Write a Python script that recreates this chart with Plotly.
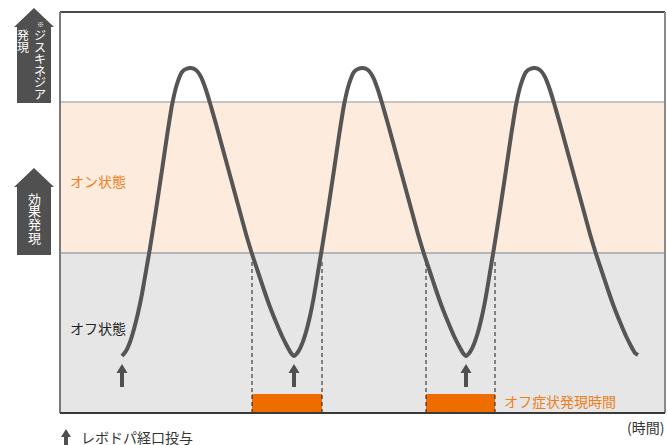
import plotly.graph_objects as go

# Plasma-level curve after repeated oral levodopa doses (arbitrary time / level units)
time = [
    62, 66, 70, 74, 78, 82, 86, 90, 96, 102, 107, 112, 117, 122, 126, 131, 136, 141, 146, 150,
    156, 162, 168, 174, 180, 186, 192, 198, 204, 210, 216, 222, 227, 231, 234,
    238, 242, 246, 250, 254, 258, 262, 268, 274, 279, 284, 289, 294, 298, 303, 308, 313, 318, 322,
    328, 334, 340, 346, 352, 358, 364, 370, 376, 382, 388, 394, 399, 403, 406,
    410, 414, 418, 422, 426, 430, 434, 440, 446, 451, 456, 461, 466, 470, 475, 480, 485, 490, 494,
    500, 506, 512, 518, 524, 530, 536, 542, 548, 554, 560, 566, 571, 575, 578,
]
level = [
    57, 62, 71, 84, 100, 119, 142, 165, 203, 243, 277, 308, 329, 341, 344, 345, 343, 336, 323, 310,
    289, 267, 245, 223, 201, 179, 159, 141, 123, 106, 91, 77, 67, 60, 57,
    61, 69, 81, 97, 117, 141, 165, 203, 243, 277, 308, 329, 341, 344, 345, 343, 336, 323, 310,
    289, 267, 245, 223, 201, 179, 159, 141, 123, 106, 91, 77, 67, 60, 57,
    61, 69, 81, 97, 117, 141, 165, 203, 243, 277, 308, 329, 341, 344, 345, 343, 336, 323, 310,
    289, 267, 245, 223, 201, 179, 159, 141, 123, 106, 91, 77, 67, 60, 58,
]

dose_times = [62, 234, 406]          # oral levodopa doses
off_start = [192, 366]               # wearing-off begins
off_end = [262, 435]                 # next dose takes effect
off_threshold = 160                  # below: OFF state
dyskinesia_threshold = 311           # above: dyskinesia

X_MAX, Y_MAX = 605, 401
W, H = 667, 445
L, T = 60, 12

ORANGE_TXT = "#ee7d1c"
ORANGE_BAR = "#ee6c00"
DARK = "#505050"
FONT = "Noto Sans CJK JP"


def px(x):
    return (x - L) / X_MAX


def py(y):
    return (T + Y_MAX - y) / Y_MAX


fig = go.Figure()

shapes = [
    dict(type="rect", xref="x", yref="y", x0=0, x1=X_MAX, y0=0, y1=off_threshold,
         fillcolor="#e6e6e6", line_width=0, layer="below"),
    dict(type="rect", xref="x", yref="y", x0=0, x1=X_MAX, y0=off_threshold, y1=dyskinesia_threshold,
         fillcolor="#fdecdd", line_width=0, layer="below"),
    dict(type="line", xref="x", yref="y", x0=0, x1=X_MAX, y0=off_threshold, y1=off_threshold,
         line=dict(color="#b4b4b4", width=2), layer="below"),
    dict(type="line", xref="x", yref="y", x0=0, x1=X_MAX, y0=dyskinesia_threshold, y1=dyskinesia_threshold,
         line=dict(color="#c4c4c4", width=2), layer="below"),
]

# OFF-period bars along the time axis
for s, e in zip(off_start, off_end):
    shapes.append(dict(type="rect", xref="x", yref="y", x0=s, x1=e, y0=0, y1=19,
                       fillcolor=ORANGE_BAR, line_width=0, layer="below"))

# dose markers (small up arrows)
for d in dose_times:
    path = (f"M {d} 49 L {d+5.5} 40 L {d+2} 40 L {d+2} 26 L {d-2} 26 "
            f"L {d-2} 40 L {d-5.5} 40 Z")
    shapes.append(dict(type="path", xref="x", yref="y", path=path,
                       fillcolor=DARK, line_width=0, layer="above"))


def big_arrow(tip_y, base_y, bottom_y, cx=34, hw=20, sw=17):
    pts = [(cx, tip_y), (cx + hw, base_y), (cx + sw, base_y), (cx + sw, bottom_y),
           (cx - sw, bottom_y), (cx - sw, base_y), (cx - hw, base_y)]
    p = "M " + " L ".join(f"{px(a):.5f} {py(b):.5f}" for a, b in pts) + " Z"
    return dict(type="path", xref="paper", yref="paper", path=p,
                fillcolor=DARK, line_width=0, layer="above")


shapes.append(big_arrow(8, 27, 103))
shapes.append(big_arrow(168, 187, 255))

# legend arrow
lp = [(66, 429), (71, 437), (68, 437), (68, 446), (64, 446), (64, 437), (61, 437)]
shapes.append(dict(type="path", xref="paper", yref="paper",
                   path="M " + " L ".join(f"{px(a):.5f} {py(b):.5f}" for a, b in lp) + " Z",
                   fillcolor=DARK, line_width=0, layer="above"))

# frame
shapes += [
    dict(type="line", xref="paper", yref="paper", x0=0, x1=1, y0=1, y1=1,
         line=dict(color="#111111", width=1.5), layer="above"),
    dict(type="line", xref="paper", yref="paper", x0=0, x1=0, y0=0, y1=1,
         line=dict(color="#7a7a7a", width=2), layer="above"),
    dict(type="line", xref="paper", yref="paper", x0=1, x1=1, y0=0, y1=1,
         line=dict(color="#8a8a8a", width=2), layer="above"),
    dict(type="line", xref="paper", yref="paper", x0=0, x1=1, y0=0, y1=0,
         line=dict(color="#3a3a3a", width=2), layer="above"),
]

# dashed guides marking each OFF period
dx, dy = [], []
for s, e in zip(off_start, off_end):
    for v in (s, e):
        dx += [v, v, None]
        dy += [0, off_threshold - 6, None]
fig.add_trace(go.Scatter(x=dx, y=dy, mode="lines", hoverinfo="skip",
                         line=dict(color="#1a1a1a", width=1, dash="4px,3px")))

fig.add_trace(go.Scatter(x=time, y=level, mode="lines", hoverinfo="skip",
                         line=dict(color="#555555", width=4, shape="spline", smoothing=0.5)))

ann = []


def text(x, y, s, size=14, color="#222222", xanchor="left"):
    ann.append(dict(x=px(x), y=py(y), xref="paper", yref="paper", text=s, showarrow=False,
                    xanchor=xanchor, yanchor="middle",
                    font=dict(family=FONT, size=size, color=color)))


text(68, 181, "オン状態", color=ORANGE_TXT)
text(68, 328, "オフ状態", color="#222222")
text(502, 401, "オフ症状発現時間", color=ORANGE_TXT)
text(666, 427, "(時間)", color="#333333", xanchor="right")
text(79, 437, "レボドパ経口投与", color="#333333")

# vertical captions inside the big arrows
for i, ch in enumerate("ジスキネジア"):
    text(40, 35 + 11.7 * i, ch, size=12, color="white", xanchor="center")
text(40, 24, "※", size=7, color="white", xanchor="center")
for i, ch in enumerate("発現"):
    text(23, 35 + 11.7 * i, ch, size=12, color="white", xanchor="center")
for i, ch in enumerate("効果発現"):
    text(34, 198 + 13 * i, ch, size=13, color="white", xanchor="center")

fig.update_layout(
    width=W, height=H,
    margin=dict(l=L, r=W - L - X_MAX, t=T, b=H - T - Y_MAX, pad=0),
    paper_bgcolor="white", plot_bgcolor="white",
    showlegend=False,
    shapes=shapes, annotations=ann,
    xaxis=dict(range=[0, X_MAX], visible=False, fixedrange=True),
    yaxis=dict(range=[0, Y_MAX], visible=False, fixedrange=True),
)

fig.write_html("out.html")
